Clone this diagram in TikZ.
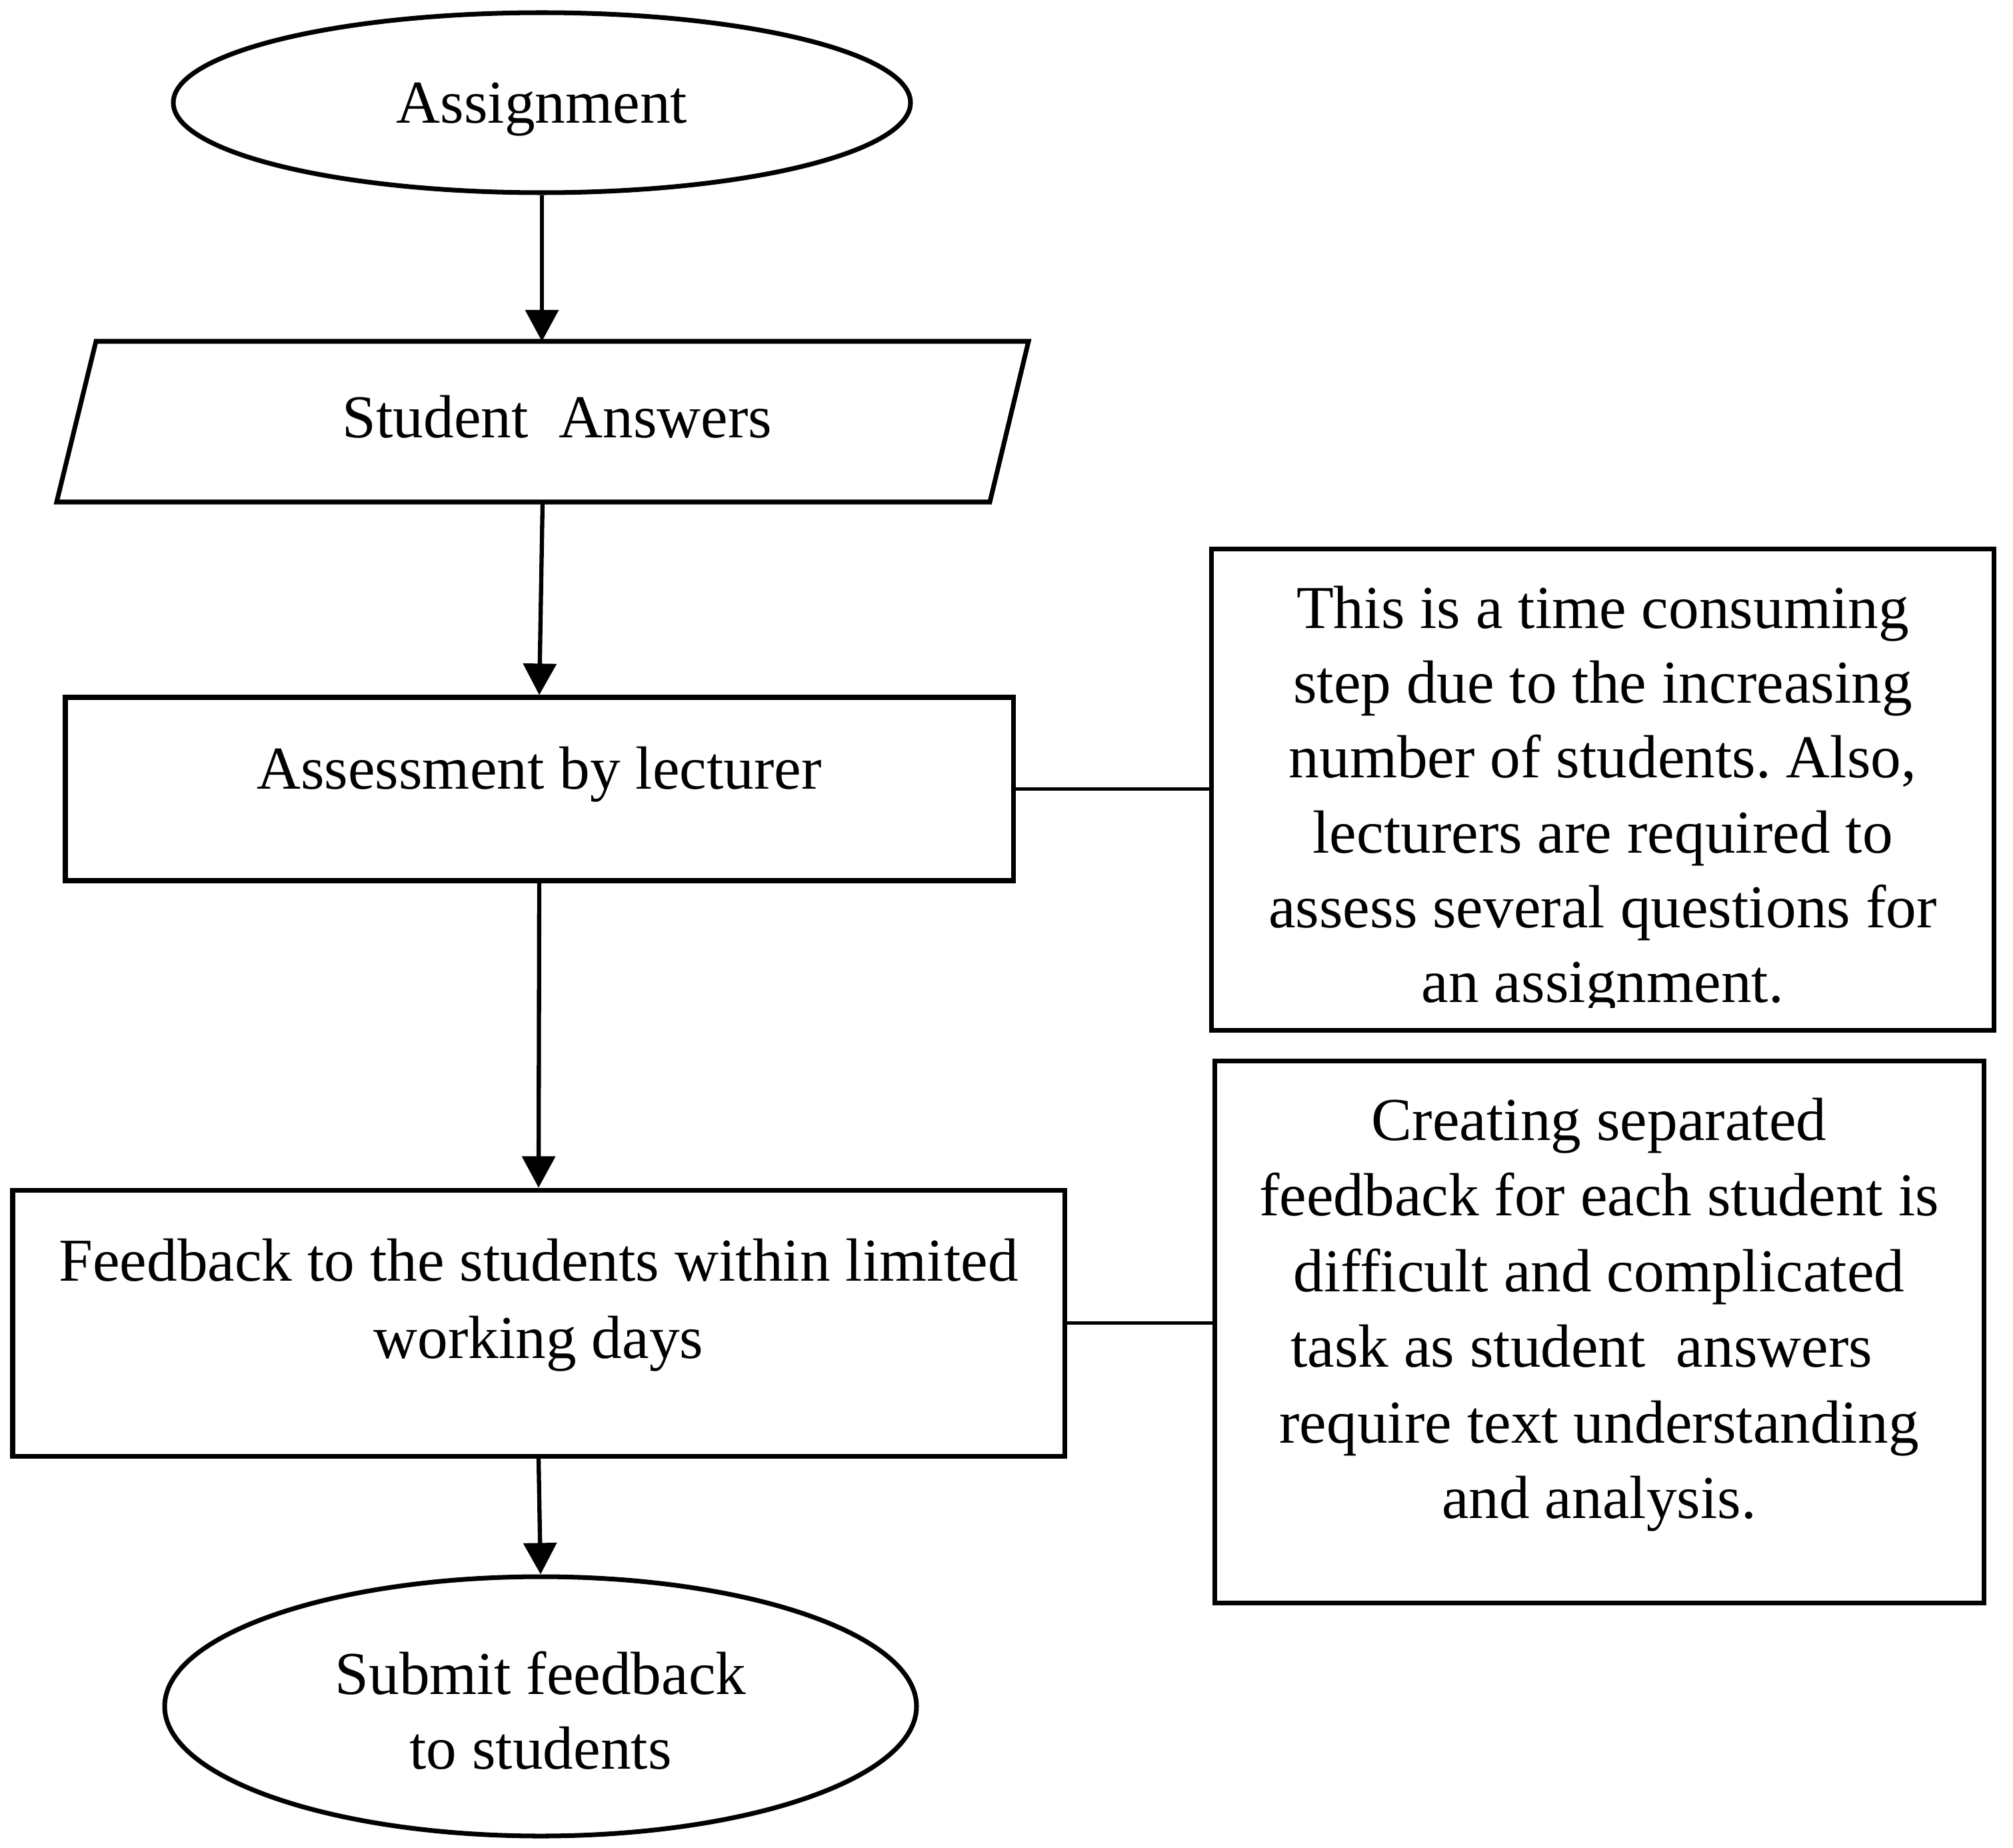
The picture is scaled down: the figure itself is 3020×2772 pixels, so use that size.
\documentclass[tikz,border=0pt]{standalone}
\usepackage{fontspec}
\setmainfont{Liberation Serif}
\usetikzlibrary{shapes.geometric,arrows.meta}
\newcommand{\vfix}[2]{\rule[-#2]{0pt}{\dimexpr#1+#2\relax}}
\frenchspacing
\begin{document}
\begin{tikzpicture}[x=0.1mm,y=-0.1mm,
  txt/.style={font=\fontsize{26}{31.9}\selectfont, align=center, inner sep=0pt},
  boxshape/.style={txt, draw, line width=2pt, rectangle},
  ovalshape/.style={txt, draw, line width=2pt, ellipse},
  arr/.style={line width=1.8pt, -{Triangle[length=13.4pt,width=14pt]}},
  tie/.style={line width=1.3pt}]
\useasboundingbox (0,0) rectangle (3020,2772);

% start oval
\node[ovalshape, minimum width=110.6mm, minimum height=27mm] (assign) at (813,154)
  {\vfix{22.8pt}{5.7pt}Assignment};

% parallelogram (input)
\draw[line width=2pt, line join=miter] (144,512) -- (1543,512) -- (1485,753) -- (85,753) -- cycle;
\coordinate (pgtop) at (813,512);
\coordinate (pgbot) at (814,753);
\node[txt, anchor=base] (answers) at (836,656) {Student~ Answers};

% process boxes
\node[boxshape, minimum width=142.2mm, minimum height=27.5mm] (assess) at (809,1183.5)
  {\vfix{20pt}{20pt}Assessment by lecturer};
\node[boxshape, minimum width=157.8mm, minimum height=39.9mm, font=\fontsize{26}{33}\selectfont] (feedback) at (808,1984.5)
  {\vfix{19.9pt}{0pt}Feedback to the students within limited\\ working days\vfix{0pt}{22.5pt}};

% end oval
\node[ovalshape, minimum width=112.8mm, minimum height=38.9mm] (submit) at (811,2559.5)
  {\vfix{21.9pt}{0pt}Submit feedback\\ to students};

% note boxes (text of the first one is cut just below its last baseline)
\begin{scope}
  \clip (1700,700) rectangle (3020,1511);
  \node[txt, minimum width=117.3mm, minimum height=72.1mm] (note1) at (2404.5,1184.5)
    {\vfix{27.6pt}{0pt}This is a time consuming\\
     step due to the increasing\\
     number of students. Also,\\
     lecturers are required to\\
     assess several questions for\\
     an assignment.\vfix{0pt}{5.7pt}};
\end{scope}
\draw[line width=2pt] (note1.south west) rectangle (note1.north east);

\node[boxshape, minimum width=115.4mm, minimum height=81.3mm, font=\fontsize{26}{32.3}\selectfont] (note2) at (2399,1997.5)
  {\vfix{19.9pt}{0pt}Creating separated\\
   feedback for each student is\\
   difficult and complicated\\
   task as student~ answers\makebox[15pt]{}\\
   require text understanding\\
   and analysis.\vfix{0pt}{21.9pt}};

% connectors
\draw[arr] (assign.south) -- (pgtop);
\draw[arr] (pgbot) -- (assess.north);
\draw[arr] (assess.south) -- (feedback.north);
\draw[arr] (feedback.south) -- (submit.north);
\draw[tie] (assess.east) -- (assess.east -| note1.west);
\draw[tie] (feedback.east) -- (feedback.east -| note2.west);
\end{tikzpicture}
\end{document}
